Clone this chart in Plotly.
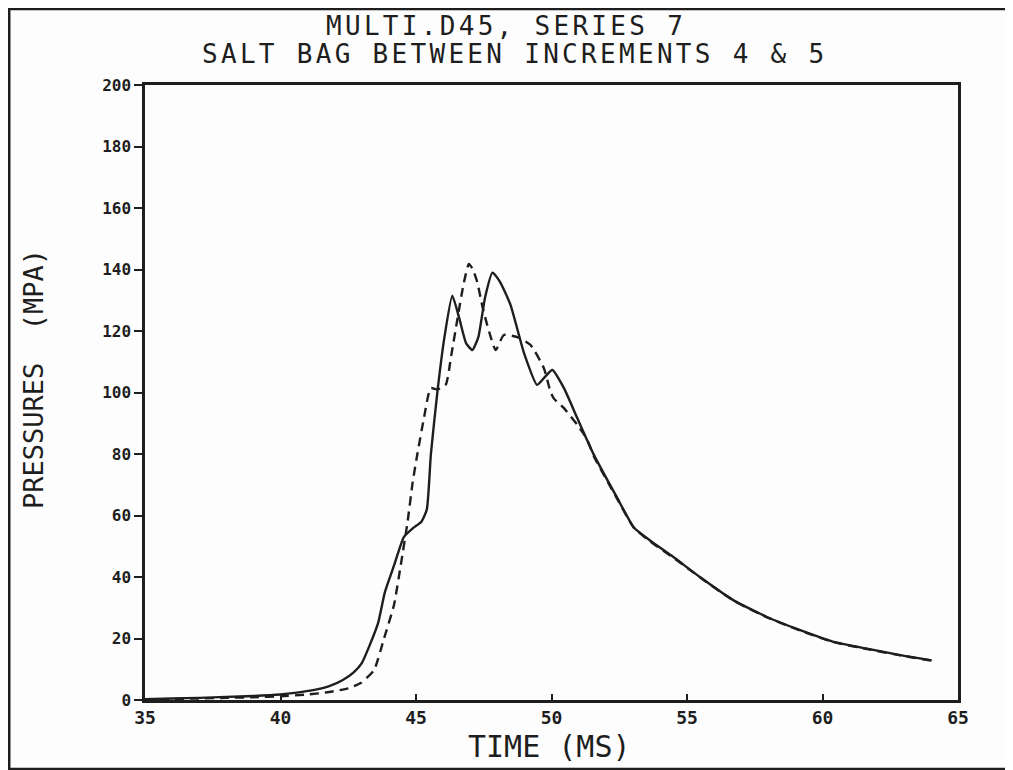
import plotly.graph_objects as go

# Solid trace (gauge 1)
t_solid = [35, 36, 37, 38, 39, 40, 40.6, 41.2, 41.8, 42.3, 42.7, 43.0, 43.3, 43.6, 43.85,
           44.2, 44.55, 44.9, 45.2, 45.4, 45.55, 45.8, 46.05, 46.34, 46.6, 46.85, 47.08,
           47.3, 47.55, 47.82, 48.1, 48.49, 48.98, 49.47, 49.75, 50.03, 50.46, 50.95,
           51.56, 52.42, 53.04, 53.65, 54.51, 55.49, 56.72, 57.95, 59.18, 60.41, 61.64,
           62.87, 64.03]
p_solid = [0.3, 0.5, 0.7, 1.0, 1.3, 1.8, 2.4, 3.2, 4.5, 6.5, 9, 12, 18, 25, 35,
           44, 53, 56, 58, 62, 80, 101, 118, 131.5, 124, 116, 113.8,
           118, 131, 139, 136, 128.4, 113, 102.5, 105, 107.3, 101.4, 91.7,
           79.8, 65.8, 56.1, 51.8, 46.4, 39.9, 32.4, 27, 22.7, 18.9, 16.7,
           14.6, 12.9]

# Dashed trace (gauge 2)
t_dash = [35, 36, 37, 38, 39, 40, 41, 41.8, 42.5, 42.96, 43.45, 43.82, 44.19, 44.44,
          44.69, 44.88, 45.05, 45.3, 45.54, 45.8, 46.1, 46.3, 46.53, 46.75, 46.95, 47.1,
          47.26, 47.45, 47.63, 47.94, 48.24, 48.74, 49.23, 49.72, 49.96, 50.09, 50.46,
          50.95, 51.3, 51.56, 52.42, 53.04, 53.65, 54.51, 55.49, 56.72, 57.95, 59.18,
          60.41, 61.64, 62.87, 64.03]
p_dash = [0.2, 0.3, 0.5, 0.7, 0.9, 1.2, 1.8, 2.6, 3.8, 5.5, 9.7, 20, 31, 44,
          58, 71, 80, 92, 101.4, 101, 102.6, 112, 124, 135, 141.8, 140,
          135.9, 128, 121.9, 113.8, 118.7, 118, 115.4, 107.9, 100.3, 98, 94.9,
          89.5, 85, 79.3, 65.5, 56, 51.5, 46.2, 39.8, 32.3, 26.9, 22.6,
          18.8, 16.6, 14.5, 12.8]

x_ticks = [35, 40, 45, 50, 55, 60, 65]
y_ticks = [0, 20, 40, 60, 80, 100, 120, 140, 160, 180, 200]

title_lines = ["MULTI.D45, SERIES 7", "SALT BAG BETWEEN INCREMENTS 4 & 5"]
x_title = "TIME (MS)"
y_title = "PRESSURES  (MPA)"

FONT = "DejaVu Sans Mono"
INK = "#1e1e1e"


def spaced(txt, px):
    return '<span style="letter-spacing:%spx">%s</span>' % (px, txt)


fig = go.Figure()
fig.add_trace(go.Scatter(x=t_solid, y=p_solid, mode="lines",
                         line=dict(color=INK, width=2.4, shape="spline", smoothing=0.5),
                         showlegend=False))
fig.add_trace(go.Scatter(x=t_dash, y=p_dash, mode="lines",
                         line=dict(color=INK, width=2.4, dash="9px,6px", shape="spline", smoothing=0.5),
                         showlegend=False))

fig.update_layout(
    width=1013, height=770,
    paper_bgcolor="#fdfdfd", plot_bgcolor="#fdfdfd",
    margin=dict(l=137, r=63, t=77, b=78, autoexpand=False),
    font=dict(family=FONT, color=INK),
    xaxis=dict(range=[35, 65], tickvals=x_ticks, ticktext=[str(v) for v in x_ticks],
               ticks="inside", ticklen=6, tickwidth=1.5, tickcolor=INK,
               showline=True, linecolor=INK, linewidth=2.5, mirror=True,
               showgrid=False, zeroline=False, automargin=False,
               tickfont=dict(family=FONT, size=18, color=INK, weight="bold")),
    yaxis=dict(range=[0, 200], tickvals=y_ticks, ticktext=[str(v) for v in y_ticks],
               ticks="outside", ticklen=8, tickwidth=1.5, tickcolor=INK,
               showline=True, linecolor=INK, linewidth=2.5, mirror=True,
               showgrid=False, zeroline=False, automargin=False,
               tickfont=dict(family=FONT, size=16, color=INK, weight="bold")),
)

# two title lines, tightly spaced as on the plotter output
fig.add_annotation(text=spaced(title_lines[0], 3.3), xref="paper", yref="paper", x=0.444, y=1.096,
                   xanchor="center", yanchor="middle", showarrow=False,
                   font=dict(family=FONT, size=26, color=INK))
fig.add_annotation(text=spaced(title_lines[1], 3.3), xref="paper", yref="paper", x=0.454, y=1.050,
                   xanchor="center", yanchor="middle", showarrow=False,
                   font=dict(family=FONT, size=26, color=INK))
# axis titles
fig.add_annotation(text=x_title, xref="paper", yref="paper", x=0.498, y=-0.075,
                   xanchor="center", yanchor="middle", showarrow=False,
                   font=dict(family=FONT, size=30, color=INK))
fig.add_annotation(text=y_title, xref="paper", yref="paper", x=-0.1365, y=0.522,
                   xanchor="center", yanchor="middle", textangle=-90, showarrow=False,
                   font=dict(family=FONT, size=27, color=INK))

# outer frame of the scanned page
fig.add_shape(type="rect", xref="paper", yref="paper",
              x0=-0.167, x1=1.065, y0=-0.112, y1=1.1236,
              line=dict(color=INK, width=2.5), fillcolor="rgba(0,0,0,0)")

fig.write_html("out.html")
